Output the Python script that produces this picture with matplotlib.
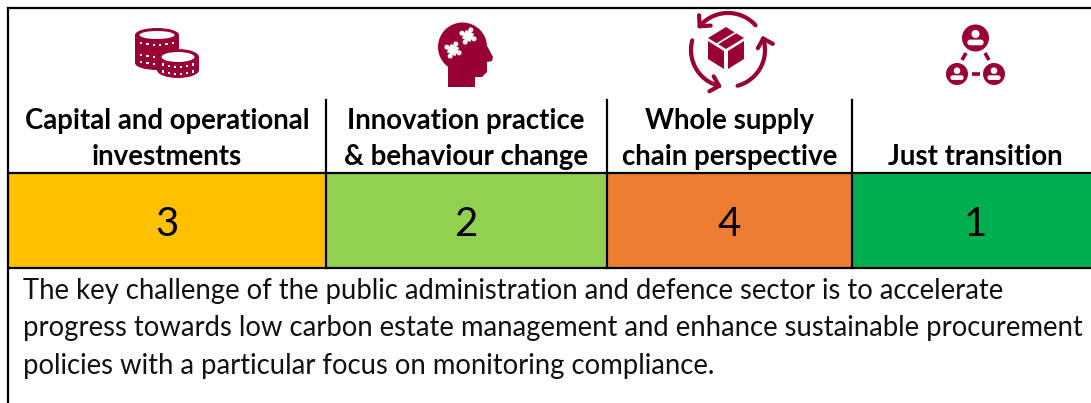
import numpy as np
import matplotlib
matplotlib.use("Agg")
import matplotlib.pyplot as plt
from matplotlib.patches import Circle, Ellipse, FancyBboxPatch, Polygon, Rectangle

# Table content
categories = ["Capital and operational\ninvestments", "Innovation practice\n& behaviour change",
              "Whole supply\nchain perspective", "Just transition"]
ranks = [3, 2, 4, 1]
cell_colors = ["#FFC000", "#92D050", "#ED7D31", "#00B050"]
summary = ["The key challenge of the public administration and defence sector is to accelerate",
           "progress towards low carbon estate management and enhance sustainable procurement",
           "policies with a particular focus on monitoring compliance."]

# Column edges, text centres and row lines in pixels
col_edges = [8, 326, 607, 852, 1091]
col_centers = [167, 466, 729.5, 975.5]
top, header_start, header_end, cells_end = 8, 100, 173, 268
icon_color = "#990033"
line_w = 1.6

plt.rcParams['font.family'] = ['Lato', 'DejaVu Sans']
fig = plt.figure(figsize=(10.91, 4.03), dpi=100)
ax = fig.add_axes([0, 0, 1, 1])
ax.set_xlim(0, 1091)
ax.set_ylim(403, 0)
ax.axis("off")


def coin(cx, cy, rx, ry, height, rows, zorder):
    # a stack of coins seen from above, with rows of white dots on the rim
    ax.add_patch(Rectangle((cx - rx, cy), 2 * rx, height, color=icon_color, lw=0, zorder=zorder))
    ax.add_patch(Ellipse((cx, cy + height), 2 * rx, 2 * ry, color=icon_color, lw=0, zorder=zorder))
    ax.add_patch(Ellipse((cx, cy), 2 * rx, 2 * ry, color=icon_color, lw=0, zorder=zorder))
    ax.add_patch(Ellipse((cx, cy), 2 * rx - 9, 2 * ry - 6, color="white", lw=0, zorder=zorder + 0.1))
    for row in rows:
        for dx in np.linspace(-0.72, 0.72, 6):
            dy = ry * np.sqrt(1 - dx ** 2) + row
            ax.add_patch(Rectangle((cx + dx * rx - 1.1, cy + dy - 1.1), 2.2, 2.2, color="white", lw=0,
                                   zorder=zorder + 0.1))


def puzzle(cx, cy, size, angle):
    # white jigsaw piece: a square with round knobs, turned by angle
    a = np.radians(angle)
    corners = np.array([[-1, -1], [1, -1], [1, 1], [-1, 1]]) * size
    rot = np.array([[np.cos(a), -np.sin(a)], [np.sin(a), np.cos(a)]])
    ax.add_patch(Polygon(rot.dot(corners.T).T + [cx, cy], color="white", lw=0, zorder=4))
    for k in [[1.45, 0], [0, -1.45], [-1.45, 0], [0, 1.45]]:
        knob = rot.dot(np.array(k) * size) + [cx, cy]
        ax.add_patch(Circle(knob, size * 0.55, color="white", lw=0, zorder=4))


def arc_arrow(cx, cy, r, start, end):
    # arc between two screen angles (degrees) with a V shaped head at the end
    t = np.radians(np.linspace(start, end, 50))
    xs, ys = cx + r * np.cos(t), cy - r * np.sin(t)
    ax.plot(xs, ys, color=icon_color, lw=3, solid_capstyle="round", zorder=3)
    tip = np.array([xs[-1], ys[-1]])
    heading = np.arctan2(ys[-1] - ys[-3], xs[-1] - xs[-3])
    for side in [-1, 1]:
        b = heading + np.pi + side * np.radians(45)
        ax.plot([tip[0], tip[0] + 11 * np.cos(b)], [tip[1], tip[1] + 11 * np.sin(b)],
                color=icon_color, lw=3, solid_capstyle="round", zorder=3)


def person_badge(cx, cy, r):
    # filled disc with a white head and shoulders
    ax.add_patch(Circle((cx, cy), r, color=icon_color, lw=0, zorder=3))
    ax.add_patch(Circle((cx, cy - 0.3 * r), 0.3 * r, color="white", lw=0, zorder=4))
    ax.add_patch(FancyBboxPatch((cx - 0.6 * r, cy + 0.12 * r), 1.2 * r, 0.42 * r,
                                boxstyle="round,pad=0,rounding_size=%.1f" % (0.2 * r),
                                color="white", lw=0, zorder=4))


# Coins icon
coin(157, 35, 22, 7, 28, [3, 15, 22], 3)
coin(178, 57, 21, 8, 13, [2, 9], 5)

# Head icon
ax.add_patch(Circle((462.5, 47), 24.5, color=icon_color, lw=0, zorder=3))
ax.add_patch(Polygon([(448, 87), (448, 66), (484, 40), (493, 57), (492, 61), (487, 62), (487, 72), (482, 77),
                      (475, 77), (475, 87)], color=icon_color, lw=0, zorder=3))
puzzle(453, 50, 4.6, 25)
puzzle(468, 36, 4.6, 25)

# Supply chain icon
arc_arrow(728, 50, 37, 42, 140)
arc_arrow(728, 50, 37, 165, 256)
arc_arrow(728, 50, 37, 285, 378)
ax.add_patch(Polygon([(726, 27), (744, 38), (726, 49), (708, 38)], color=icon_color, lw=0, zorder=3))
ax.add_patch(Polygon([(708, 41), (724, 51), (724, 69), (708, 59)], color=icon_color, lw=0, zorder=3))
ax.add_patch(Polygon([(744, 41), (728, 51), (728, 69), (744, 59)], color=icon_color, lw=0, zorder=3))
ax.plot([717, 735], [44, 33], color="white", lw=1.2, zorder=4)

# People icon
person_badge(975.5, 38, 13.5)
person_badge(957, 74, 11)
person_badge(994, 74, 11)
for x0, y0, x1, y1 in [(966, 53, 962, 60), (985, 53, 989, 60), (972, 74, 980, 74)]:
    ax.plot([x0, x1], [y0, y1], color=icon_color, lw=2.6, solid_capstyle="butt", zorder=3)

# Header labels, coloured cells and ranks
for i, label in enumerate(categories):
    left, right = col_edges[i], col_edges[i + 1]
    lines = label.split("\n")
    rows = [157] if len(lines) == 1 else [121, 157]
    for line, y in zip(lines, rows):
        ax.text(col_centers[i], y, line, ha="center", va="center", fontsize=19.9, fontweight="bold",
                color="black", zorder=5)
    ax.add_patch(Rectangle((left, header_end), right - left, cells_end - header_end,
                           facecolor=cell_colors[i], edgecolor="none", zorder=1))
    ax.text(col_centers[i] - 0.5, 225, str(ranks[i]), ha="center", va="center", fontsize=29, color="black", zorder=5)

# Table lines
ax.plot([col_edges[0], 1091], [top, top], color="black", lw=line_w, zorder=6)
ax.plot([col_edges[0], col_edges[0]], [top, 403], color="black", lw=line_w, zorder=6)
for y in [header_end, cells_end]:
    ax.plot([col_edges[0], 1091], [y, y], color="black", lw=line_w, zorder=6)
for x in col_edges[1:4]:
    ax.plot([x, x], [header_start, cells_end], color="black", lw=line_w, zorder=6)

# Summary paragraph
for line, y in zip(summary, [291, 328, 366]):
    ax.text(23, y, line, ha="left", va="center", fontsize=19.8, color="#111111", zorder=5)

fig.savefig("out.png", dpi=100)
